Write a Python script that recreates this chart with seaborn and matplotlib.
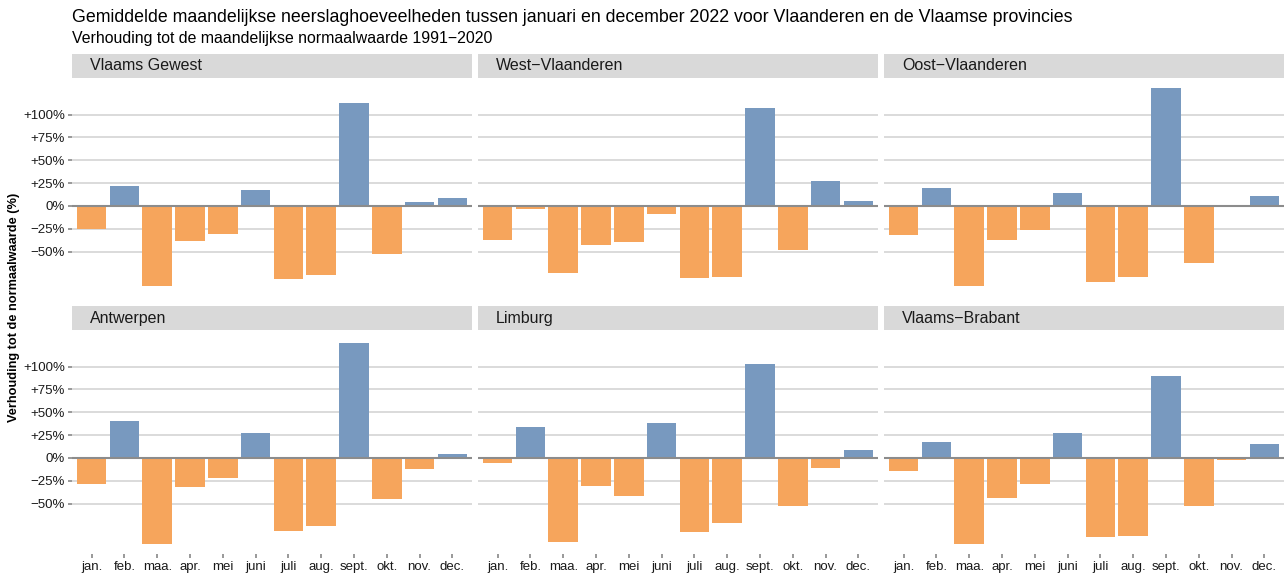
import numpy as np
import pandas as pd
import matplotlib
matplotlib.use("Agg")
import matplotlib.pyplot as plt
import seaborn as sns

sns.set_theme(style="white")
plt.rcParams['font.family'] = ['Liberation Sans', 'DejaVu Sans']

maanden = ["jan.", "feb.", "maa.", "apr.", "mei", "juni", "juli", "aug.", "sept.", "okt.", "nov.", "dec."]
gebieden = ["Vlaams Gewest", "West\u2212Vlaanderen", "Oost\u2212Vlaanderen",
            "Antwerpen", "Limburg", "Vlaams\u2212Brabant"]

# afwijking t.o.v. normaalwaarde 1991-2020 (%)
vlaams_gewest = [-25, 22, -87, -38, -31, 18, -80, -76, 113, -52, 4, 9]
west_vlaanderen = [-37, -3, -73, -43, -39, -9, -79, -78, 107, -48, 27, 5]
oost_vlaanderen = [-32, 20, -88, -37, -26, 14, -83, -78, 129, -62, 0.5, 11]
antwerpen = [-28, 41, -94, -32, -22, 27, -80, -74, 126, -45, -12, 4]
limburg = [-5, 34, -92, -31, -42, 38, -81, -71, 103, -53, -11, 9]
vlaams_brabant = [-14, 18, -94, -44, -28, 27, -86, -85, 90, -53, -2, 15]

waarden = [vlaams_gewest, west_vlaanderen, oost_vlaanderen, antwerpen, limburg, vlaams_brabant]

rows = []
for g, w in zip(gebieden, waarden):
    for m, v in zip(maanden, w):
        rows.append({"gebied": g, "maand": m, "waarde": v, "teken": "pos" if v >= 0 else "neg"})
df = pd.DataFrame(rows)

kleuren = {"pos": "#7899BF", "neg": "#F6A55C"}

W, H = 1287, 574
fig = plt.figure(figsize=(W / 100, H / 100), dpi=100)

def frac(x0, y0, x1, y1):
    return [x0 / W, 1 - y1 / H, (x1 - x0) / W, (y1 - y0) / H]

panel_x = [(72, 472), (478, 878), (884, 1284)]
rij_y = [(54, 78, 302), (306, 330, 554)]

yticks = [-50, -25, 0, 25, 50, 75, 100]
ylabels = ["\u221250%", "\u221225%", "0%", "+25%", "+50%", "+75%", "+100%"]

for i, g in enumerate(gebieden):
    r, c = divmod(i, 3)
    x0, x1 = panel_x[c]
    s0, p0, p1 = rij_y[r]
    strip = fig.add_axes(frac(x0, s0, x1, p0))
    strip.set_facecolor("#D9D9D9")
    strip.set_xticks([]); strip.set_yticks([])
    for sp in strip.spines.values():
        sp.set_visible(False)
    strip.text(0.045, 0.5, g, transform=strip.transAxes, ha="left", va="center",
               fontsize=11.5, color="#1A1A1A")

    ax = fig.add_axes(frac(x0, p0, x1, p1))
    sub = df[df.gebied == g]
    for y in yticks:
        if y != 0:
            ax.axhline(y, color="#D4D4D4", lw=1.2, zorder=0)
    sns.barplot(data=sub, x="maand", y="waarde", hue="teken", palette=kleuren,
                order=maanden, dodge=False, width=0.9, legend=False, ax=ax,
                saturation=1, linewidth=0, zorder=2)
    ax.axhline(0, color="#8C8C8C", lw=1.5, zorder=3)
    ax.set_xlim(-0.6, 11.6)
    ax.set_ylim(-105, 140)
    ax.set_xlabel("")
    ax.set_ylabel("")
    for sp in ax.spines.values():
        sp.set_visible(False)
    ax.set_yticks(yticks)
    if c == 0:
        ax.set_yticklabels(ylabels, fontsize=9.5, color="#1A1A1A")
        ax.tick_params(axis="y", length=3, color="#8C8C8C", pad=2, left=True)
    else:
        ax.tick_params(axis="y", left=False, labelleft=False)
    if r == 1:
        ax.set_xticks(range(len(maanden)))
        ax.set_xticklabels(maanden, fontsize=9.5, color="#1A1A1A")
        ax.tick_params(axis="x", length=3, color="#8C8C8C", pad=2, bottom=True)
    else:
        ax.tick_params(axis="x", bottom=False, labelbottom=False)

fig.text(72 / W, 1 - 18 / H, "Gemiddelde maandelijkse neerslaghoeveelheden tussen januari en december 2022 voor Vlaanderen en de Vlaamse provincies",
         ha="left", va="center", fontsize=12.8, color="#000000")
fig.text(72 / W, 1 - 38 / H, "Verhouding tot de maandelijkse normaalwaarde 1991\u22122020",
         ha="left", va="center", fontsize=11.4, color="#000000")
fig.text(14 / W, 1 - 307 / H, "Verhouding tot de normaalwaarde (%)", rotation=90,
         ha="center", va="center", fontsize=9.2, fontweight="bold", color="#000000")

fig.savefig("out.png", dpi=100, facecolor="white")
